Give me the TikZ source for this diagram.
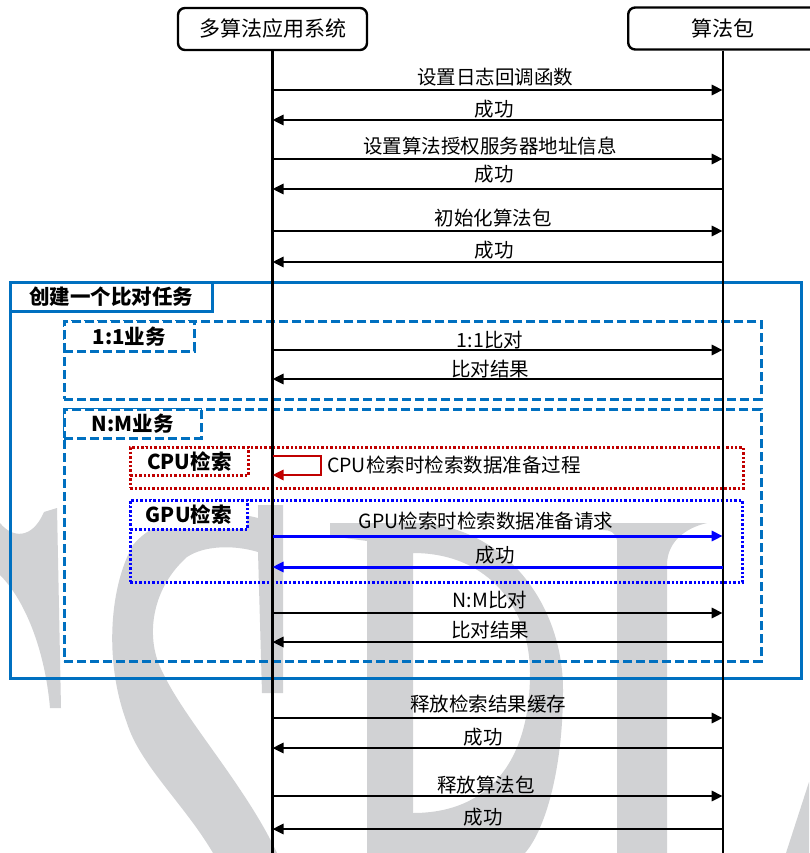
\documentclass[tikz,border=0pt]{standalone}
\usepackage{fontspec}
\setmainfont{Noto Sans CJK SC}
\usetikzlibrary{arrows.meta}
\definecolor{bxblue}{RGB}{0,112,192}
\definecolor{cpured}{RGB}{192,0,0}
\definecolor{gpublue}{RGB}{0,0,255}
\definecolor{wm}{RGB}{209,210,212}
\begin{document}
\begin{tikzpicture}[x=1pt,y=-1pt,
  msg/.style={font=\fontsize{19.5}{20}\selectfont, inner sep=0pt},
  hdr/.style={draw, line width=2.4pt, rounded corners=7pt, fill=white,
    font=\fontsize{21}{22}\selectfont, minimum height=42pt, minimum width=189pt, inner sep=0pt},
  life/.style={line width=2.1pt},
  call/.style={line width=2.7pt, -{Triangle[length=11pt,width=10pt]}},
  frame/.style={draw=bxblue, line width=2.8pt, anchor=north west, inner sep=0pt},
  dashframe/.style={draw=bxblue, line width=2.7pt, dash pattern=on 9pt off 4pt, anchor=north west, inner sep=0pt},
  cpuframe/.style={draw=cpured, line width=2.6pt, dash pattern=on 2.4pt off 2pt, anchor=north west, inner sep=0pt},
  gpuframe/.style={draw=gpublue, line width=2.6pt, dash pattern=on 2.4pt off 2pt, anchor=north west, inner sep=0pt},
  tabtxt/.style={font=\bfseries\fontsize{20.5}{21}\selectfont}
]
\useasboundingbox (0,0) rectangle (809,853);
\fill[white] (0,0) rectangle (809,853);

% watermark
\fill[wm] (0,523) .. controls (12,538) and (32,540) .. (44,512) -- (57,508) -- (61,708) -- (50,708) .. controls (45,650) and (25,600) .. (0,575) -- cycle;
\fill[wm] (258,505) -- (283,505) -- (283,693) -- (262,693) -- (258,552) .. controls (235,545) and (205,545) .. (187,557) .. controls (150,590) and (145,640) .. (163,673) .. controls (185,720) and (245,785) .. (277,853) -- (213,853) .. controls (185,805) and (140,765) .. (127,723) .. controls (105,665) and (108,590) .. (133,545) .. controls (160,512) and (220,508) .. (258,518) -- cycle;
\fill[wm, even odd rule] (330,523) -- (413,523) .. controls (500,523) and (563,600) .. (563,690) .. controls (563,770) and (545,830) .. (525,853) -- (367,853) -- (367,541) -- (330,536) -- cycle
  (413,553) .. controls (490,553) and (530,610) .. (530,673) .. controls (530,760) and (490,813) .. (413,813) -- cycle;
\fill[wm] (603,523) -- (707,523) .. controls (685,528) and (667,542) .. (667,565) -- (667,853) -- (617,853) -- (617,540) .. controls (615,532) and (610,530) .. (603,530) -- cycle;
\fill[wm] (786,853) -- (809,782) -- (809,853) -- cycle;

% frames
\node[frame, minimum width=791pt, minimum height=396pt] (task) at (9,281) {};
\node[frame, fill=white, minimum width=202pt, minimum height=29pt] (tasktab) at (9,281) {};
\node[tabtxt] (tasktxt) at (tasktab.center) {创建一个比对任务};

\node[dashframe, minimum width=697pt, minimum height=78pt] (one) at (63,320) {};
\node[dashframe, fill=white, minimum width=130pt, minimum height=30pt] (onetab) at (63,320) {};
\node[tabtxt] (onetxt) at (onetab.center) {1:1业务};

\node[dashframe, minimum width=697pt, minimum height=252pt] (nm) at (63,408) {};
\node[dashframe, fill=white, minimum width=137pt, minimum height=29pt] (nmtab) at (63,408) {};
\node[tabtxt] (nmtxt) at (nmtab.center) {N:M业务};

\node[cpuframe, minimum width=613pt, minimum height=41pt] (cpu) at (129,446) {};
\node[cpuframe, fill=white, minimum width=118pt, minimum height=28pt] (cputab) at (129,446) {};
\node[tabtxt] (cputxt) at (cputab.center) {CPU检索};

\node[gpuframe, minimum width=612pt, minimum height=82pt] (gpu) at (129,499) {};
\node[gpuframe, fill=white, minimum width=117pt, minimum height=29pt] (gputab) at (129,499) {};
\node[tabtxt] (gputxt) at (gputab.center) {GPU检索};

% headers and lifelines
\node[hdr] (A) at (272.5,29) {多算法应用系统};
\node[hdr, anchor=west] (B) at (627,28.5) {算法包};
\coordinate (L) at (A.south);
\coordinate (R) at (B.south);
\coordinate (bottom) at (0,853);
\draw[life] (A.south) -- (L |- bottom);
\draw[life] (B.south) -- (R |- bottom);

% forward calls
\foreach \i/\y/\ly/\lx/\t in {1/90/77/495/设置日志回调函数, 3/159/146/490/设置算法授权服务器地址信息, 5/231/218/493/初始化算法包, 7/350/340/490/1:1比对, 11/613/600/490/N:M比对, 13/718/704/488/释放检索结果缓存, 15/796/785/486/释放算法包}{
  \coordinate (m\i) at (0,\y);
  \draw[call] (L |- m\i) -- (R |- m\i);
  \node[msg] (t\i) at (\lx,\ly) {\t};
}
% returns
\foreach \i/\y/\ly/\lx/\t in {2/120/109/494/成功, 4/189/174/494/成功, 6/262/250/494/成功, 8/379/369/490/比对结果, 12/642/630/490/比对结果, 14/748/737/483/成功, 16/829/817/483/成功}{
  \coordinate (m\i) at (0,\y);
  \draw[call] (R |- m\i) -- (L |- m\i);
  \node[msg] (t\i) at (\lx,\ly) {\t};
}

% CPU self call
\coordinate (c1) at (0,456);
\coordinate (c2) at (0,475);
\coordinate (cr1) at (321,456);
\coordinate (cr2) at (321,475);
\draw[cpured, line width=2.7pt, -{Triangle[length=11pt,width=10pt]}] (L |- c1) -- (cr1) -- (cr2) -- (L |- c2);
\node[msg, anchor=west] (tc) at (327,465) {CPU检索时检索数据准备过程};

% GPU calls
\coordinate (g1) at (0,536);
\coordinate (g2) at (0,567);
\draw[call, gpublue, line width=3pt] (L |- g1) -- (R |- g1);
\node[msg] (tg1) at (486,521) {GPU检索时检索数据准备请求};
\draw[call, gpublue, line width=3pt] (R |- g2) -- (L |- g2);
\node[msg] (tg2) at (495,555) {成功};
\end{tikzpicture}
\end{document}
